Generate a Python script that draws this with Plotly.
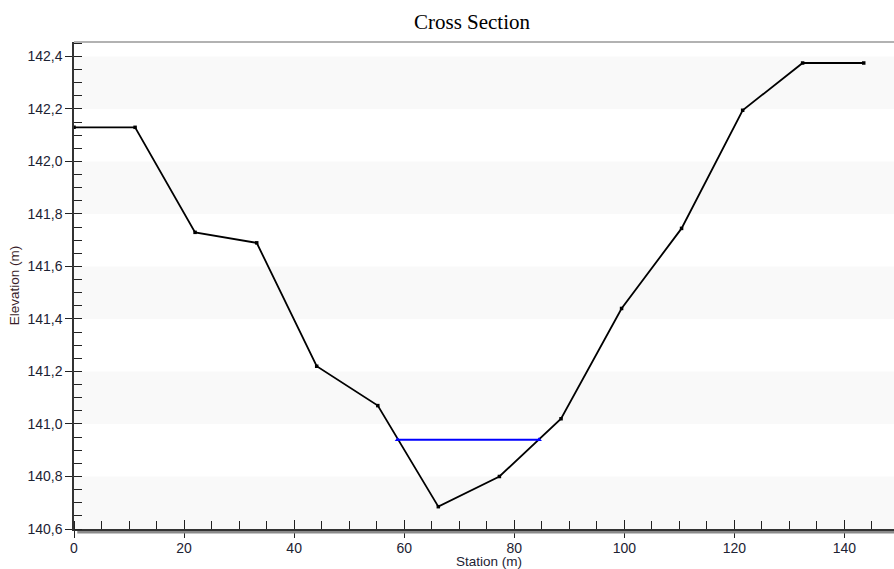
import plotly.graph_objects as go

# Ground profile (station m, elevation m)
station = [0.0, 11.1, 22.0, 33.2, 44.1, 55.2, 66.2, 77.3, 88.5, 99.5, 110.4, 121.5, 132.4, 143.5]
elevation = [142.13, 142.13, 141.73, 141.69, 141.22, 141.07, 140.685, 140.80, 141.02, 141.44, 141.745, 142.195, 142.375, 142.375]

# Water surface
ws_station = [58.8, 84.5]
ws_elev = [140.94, 140.94]

# Background bands (elevation intervals shaded)
band_lo = [140.6, 141.0, 141.4, 141.8, 142.2]
band_hi = [140.8, 141.2, 141.6, 142.0, 142.4]

x_range = [0, 149]
y_range = [140.6, 142.455]

fig = go.Figure()

fig.add_trace(go.Scatter(
    x=station, y=elevation, mode="lines+markers",
    line=dict(color="black", width=1.8),
    marker=dict(color="black", size=3.5, symbol="square"),
    showlegend=False, hoverinfo="x+y"))

fig.add_trace(go.Scatter(
    x=ws_station, y=ws_elev, mode="lines+markers",
    line=dict(color="#0000ff", width=2),
    marker=dict(color="#0000ff", size=5, symbol="triangle-up"),
    showlegend=False, hoverinfo="x+y"))

# invisible trace for the overlay axes (inside major ticks)
fig.add_trace(go.Scatter(x=[None], y=[None], xaxis="x2", yaxis="y2",
                         showlegend=False, hoverinfo="skip"))

shapes = []
for lo, hi in zip(band_lo, band_hi):
    shapes.append(dict(type="rect", xref="paper", yref="y", x0=0, x1=1, y0=lo, y1=hi,
                       fillcolor="#f9f9f9", line=dict(width=0), layer="below"))
# top border
shapes.append(dict(type="line", xref="paper", yref="paper", x0=0, x1=1, y0=1, y1=1,
                   line=dict(color="#666666", width=1.2)))
# bottom axis shadow
shapes.append(dict(type="line", xref="paper", yref="paper", x0=0.004, x1=1,
                   y0=-3.2 / 487, y1=-3.2 / 487, line=dict(color="#8a8a8a", width=2.5)))

tickfont = dict(family="Liberation Sans, Arial, sans-serif", size=14, color="#1c2233")

fig.update_layout(
    width=894, height=569,
    margin=dict(l=74, r=0, t=42, b=40),
    paper_bgcolor="white", plot_bgcolor="white",
    separators=", ",
    title=dict(text="Cross Section", x=472 / 894, xanchor="center", y=1 - 22 / 569,
               yanchor="middle", yref="container", automargin=False,
               font=dict(family="Liberation Serif, Times New Roman, serif", size=21, color="black")),
    shapes=shapes,
    annotations=[dict(text="Station (m)", xref="paper", yref="paper", x=(489 - 74) / 820, y=0,
                      yshift=-32, xanchor="center", yanchor="middle", showarrow=False,
                      font=dict(family="Liberation Sans, Arial, sans-serif", size=13.5, color="#1c2233"))],
    xaxis=dict(range=x_range, showgrid=False, zeroline=False, automargin=False,
               showline=True, linecolor="#333333", linewidth=2,
               ticks="outside", ticklen=7, tickwidth=1.2, tickcolor="#222222",
               tick0=0, dtick=20, tickfont=tickfont, ticklabelstandoff=-2,
               minor=dict(ticks="inside", ticklen=8, tickwidth=1.2, tickcolor="#222222", dtick=5, showgrid=False)),
    yaxis=dict(range=y_range, showgrid=False, zeroline=False, automargin=False,
               showline=True, linecolor="#333333", linewidth=1.5,
               ticks="outside", ticklen=7, tickwidth=1.2, tickcolor="#222222",
               tick0=140.6, dtick=0.2, tickformat=".1f", tickfont=tickfont,
               minor=dict(ticks="inside", ticklen=8, tickwidth=1.2, tickcolor="#222222", dtick=0.05, showgrid=False),
               title=dict(text="Elevation (m)", standoff=5,
                          font=dict(family="Liberation Sans, Arial, sans-serif", size=13.5, color="#3a1e2a"))),
    xaxis2=dict(overlaying="x", matches="x", anchor="y2", side="bottom", range=x_range,
                showgrid=False, zeroline=False, showline=False, showticklabels=False, automargin=False,
                ticks="inside", ticklen=9, tickwidth=1.2, tickcolor="#222222", tick0=0, dtick=20),
    yaxis2=dict(overlaying="y", matches="y", anchor="x2", side="left", range=y_range,
                showgrid=False, zeroline=False, showline=False, showticklabels=False, automargin=False,
                ticks="inside", ticklen=8, tickwidth=1.2, tickcolor="#222222", tick0=140.6, dtick=0.2),
)

fig.write_html("out.html", config={"displayModeBar": False},
               post_script="document.body.style.margin='0';document.body.style.overflow='hidden';")
